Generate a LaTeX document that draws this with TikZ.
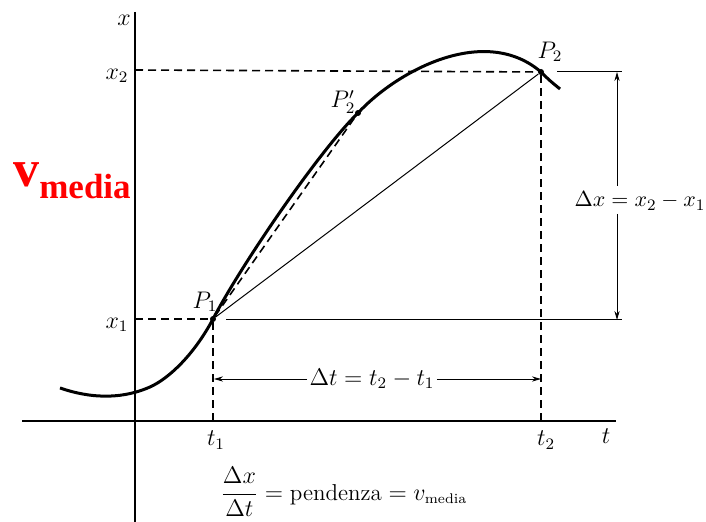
\documentclass[tikz,border=0pt]{standalone}
\usepackage{amsmath, amssymb}
\usepackage{fontspec}
\newfontfamily\redfont{Liberation Serif}
\usetikzlibrary{arrows.meta, positioning}

\begin{document}
\begin{tikzpicture}[x=0.5pt,y=-0.5pt]
\tikzset{dot/.style = {shape=circle,fill,inner sep=0pt,minimum size=3pt},
  lab/.style = {inner sep=1pt,font=\fontsize{11.5}{13}\selectfont},
  guide/.style = {dash pattern=on 4pt off 2.5pt,line width=0.8pt},
  dim/.style = {line width=0.45pt,-{Stealth[length=4.5pt,width=2.6pt]}}}
\useasboundingbox (0,0) rectangle (706,522);
% axes
\coordinate (xtop) at (135,12);
\coordinate (xbot) at (135,522);
\coordinate (tleft) at (22,421);
\coordinate (tright) at (616,421);
\draw[line width=1pt] (xtop) -- (xbot);
\draw[line width=1pt] (tleft) -- (tright);
% points on the curve
\node[dot] (P1) at (213,319) {};
\node[dot] (P2b) at (358,113) {};
\node[dot] (P2) at (541,72) {};
% curve
\coordinate (c0) at (60,388);
\coordinate (c1) at (150,387);
\coordinate (c9) at (560,89);
\draw[line width=1.5pt] (c0) .. controls (95,400) and (125,398) .. (c1)
  .. controls (170,378) and (195,353) .. (P1.center)
  .. controls (243,262) and (320,150) .. (P2b.center)
  .. controls (398,70) and (485,24) .. (P2.center)
  .. controls (549,80) .. (c9);
% axis marks
\coordinate (x1) at (135,319);
\coordinate (x2) at (135,70);
\coordinate (t1) at (213,421);
\coordinate (t2) at (541,421);
\draw[guide] (x1) -- (P1);
\draw[guide] (x2) -- (P2);
\draw[guide] (P1) -- (t1);
\draw[guide] (P2) -- (t2);
\draw[guide] (P1) -- (P2b);
\draw[line width=0.5pt] (P1) -- (P2);
% dimension lines
\coordinate (h1a) at (226,320);
\coordinate (h1b) at (622,320);
\coordinate (h2a) at (557,72);
\coordinate (h2b) at (622,72);
\draw[line width=0.5pt] (h1a) -- (h1b);
\draw[line width=0.5pt] (h2a) -- (h2b);
\coordinate (dxup) at (617,72);
\coordinate (dxdown) at (617,320);
\coordinate (dxm1) at (617,186);
\coordinate (dxm2) at (617,214);
\draw[dim] (dxm1) -- (dxup);
\draw[dim] (dxm2) -- (dxdown);
\node[lab,font=\fontsize{11}{13}\selectfont] (dx) at (640,201) {$\Delta x = x_2 - x_1$};
\node[lab] (dt) at (372,379) {$\Delta t = t_2 - t_1$};
\coordinate (dtl) at (214,379);
\coordinate (dtr) at (541,379);
\draw[dim] (dt) -- (dtl);
\draw[dim] (dt) -- (dtr);
% labels
\node[lab] (xlab) at (124,20) {$x$};
\node[lab] (tlab) at (606,436) {$t$};
\node[lab] (x2lab) at (117,76) {$x_2$};
\node[lab] (x1lab) at (117,325) {$x_1$};
\node[lab] (t1lab) at (216,440) {$t_1$};
\node[lab] (t2lab) at (546,440) {$t_2$};
\node[lab] (P1lab) at (205,302) {$P_1$};
\node[lab] (P2blab) at (343,102) {$P_2'$};
\node[lab] (P2lab) at (550,52) {$P_2$};
\node[lab] (slope) at (344,492) {$\dfrac{\Delta x}{\Delta t} = \text{pendenza} = v_{\text{\scriptsize media}}$};
% red title
\node[text=red,inner sep=0pt] (vmedia) at (72,181) {\redfont\bfseries\fontsize{26}{26}\selectfont v\raisebox{-6pt}{\fontsize{17.5}{18}\selectfont media}};
\end{tikzpicture}
\end{document}
